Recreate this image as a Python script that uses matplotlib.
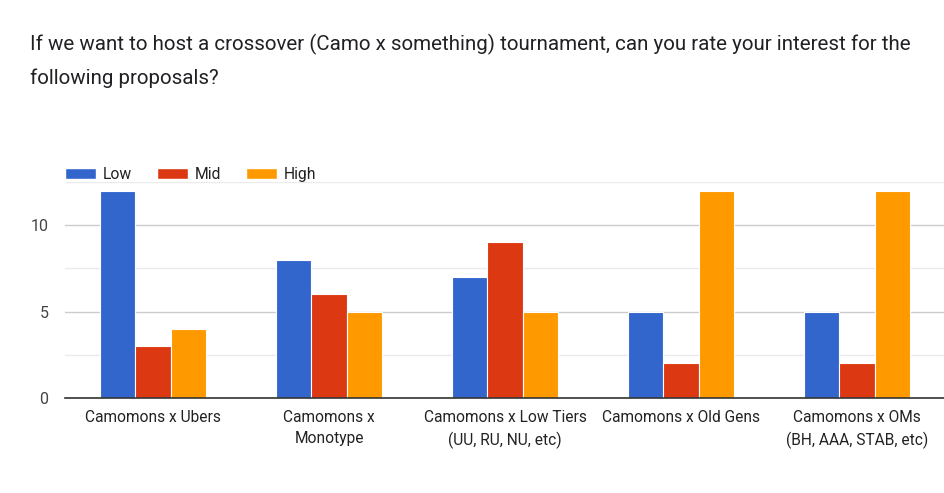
import numpy as np
import matplotlib.pyplot as plt
from matplotlib.patches import Patch

# survey data
categories = ["Camomons x Ubers", "Camomons x\nMonotype", "Camomons x Low Tiers\n(UU, RU, NU, etc)",
              "Camomons x Old Gens", "Camomons x OMs\n(BH, AAA, STAB, etc)"]
series_names = ["Low", "Mid", "High"]
low = [12, 8, 7, 5, 5]
mid = [3, 6, 9, 2, 2]
high = [4, 5, 5, 12, 12]
colors = ["#3366CC", "#DC3912", "#FF9900"]
title_lines = ["If we want to host a crossover (Camo x something) tournament, can you rate your interest for the",
               "following proposals?"]

plt.rcParams['font.family'] = ['Roboto', 'DejaVu Sans']

fig = plt.figure(figsize=(9.45, 4.93), dpi=100)
ax = fig.add_axes([65 / 945, 1 - 398 / 493, 880 / 945, 216 / 493])

x = np.arange(len(categories))
w = 0.2
for i, (vals, name) in enumerate(zip([low, mid, high], series_names)):
    ax.bar(x + (i - 1) * w, vals, width=w, color=colors[i], edgecolor="white",
           linewidth=0.8, label=name, zorder=3)

ax.set_xlim(-0.5, len(categories) - 0.5)
ax.set_ylim(0, 12.5)
ax.set_yticks([0, 5, 10])
ax.set_yticks([2.5, 7.5, 12.5], minor=True)
ax.grid(axis="y", which="major", color="#cccccc", linewidth=1, zorder=0)
ax.grid(axis="y", which="minor", color="#ebebeb", linewidth=1, zorder=0)
ax.tick_params(axis="y", which="both", length=0, pad=12, labelsize=11.5, labelcolor="#444444")
ax.tick_params(axis="x", length=0, pad=9, labelsize=11.2, labelcolor="#222222")
ax.set_xticks(x)
ax.set_xticklabels(categories, linespacing=1.5)
for s in ["top", "right", "left"]:
    ax.spines[s].set_visible(False)
ax.spines["bottom"].set_color("#333333")
ax.spines["bottom"].set_linewidth(1.2)
ax.spines["bottom"].set_zorder(4)

handles = [Patch(facecolor=c, edgecolor="white", label=n) for c, n in zip(colors, series_names)]
ax.legend(handles=handles, loc="lower left", bbox_to_anchor=(0, 1.0), ncol=3, frameon=False,
          handlelength=1.95, handleheight=0.75, handletextpad=0.45, columnspacing=1.6,
          fontsize=11.3, borderaxespad=0, borderpad=0, labelcolor="#222222")

for k, line in enumerate(title_lines):
    fig.text(30 / 945, 1 - (44 + 34 * k) / 493, line, fontsize=14.8, color="#202124", va="center")

fig.savefig("out.png", dpi=100)
